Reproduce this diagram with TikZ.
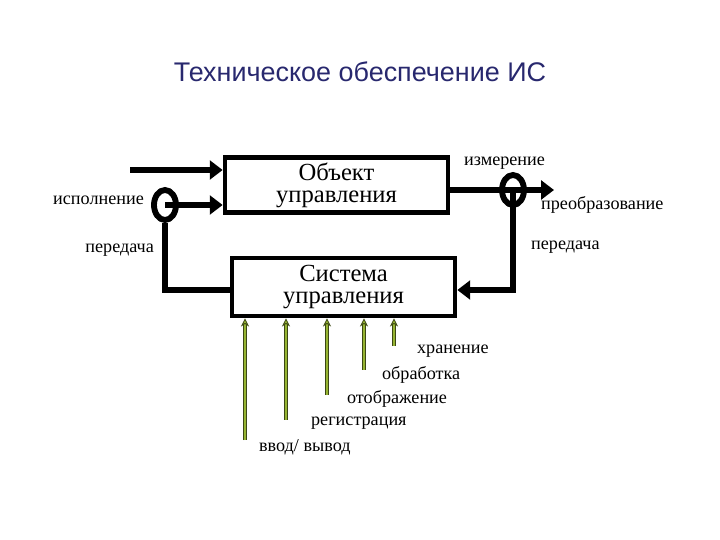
\documentclass[tikz,border=0pt]{standalone}
\usepackage{fontspec}
\setmainfont{Liberation Serif}
\newfontfamily\titlefont{Liberation Sans}
\usetikzlibrary{arrows.meta,shapes.geometric}
\definecolor{titleblue}{RGB}{40,40,110}
\definecolor{lgreen}{RGB}{150,180,50}
\begin{document}
\begin{tikzpicture}[x=0.03cm,y=-0.03cm,
  box/.style={draw,line width=4pt,inner sep=0pt,font=\fontsize{21}{19}\selectfont,align=center},
  thick line/.style={line width=5pt},
  big arrow/.style={thick line,-{Triangle[length=11pt,width=16pt]}},
  green arrow/.style={draw=black!60!lgreen,double=lgreen,double distance=2.2pt,line width=0.7pt,-{Stealth[length=7pt,width=7pt,fill=lgreen]}},
  lab/.style={font=\fontsize{15.5}{15}\selectfont}]
\useasboundingbox (0,0) rectangle (720,540);
\node[font=\titlefont\fontsize{23}{23}\selectfont,text=titleblue] (title) at (360,72) {Техническое обеспечение ИС};
\node[box,minimum width=223*0.03cm,minimum height=55*0.03cm] (obj) at (336.5,185) {Объект\\управления};
\node[box,minimum width=223*0.03cm,minimum height=58*0.03cm] (sys) at (343.5,287) {Система\\управления};
\coordinate (in1) at (130,170);
\draw[big arrow] (in1) -- (obj.west |- in1);
\node[draw,line width=5pt,ellipse,minimum width=22*0.03cm,minimum height=30*0.03cm,inner sep=0pt] (c1) at (165,205) {};
\draw[big arrow] (c1.center) -- (obj.west |- c1.center);
\coordinate (lc) at (165,290);
\draw[thick line] (c1.south) -- (lc) -- (sys.west |- lc);
\coordinate (out) at (554,190);
\node[draw,line width=5pt,ellipse,minimum width=22*0.03cm,minimum height=30*0.03cm,inner sep=0pt] (c2) at (513,190) {};
\draw[big arrow] (obj.east |- out) -- (out);
\coordinate (rc) at (513,290);
\draw[big arrow] (c2.center) -- (rc) -- (sys.east |- rc);
\node[lab,anchor=west] (l1) at (460,163) {измерение};
\node[lab,anchor=east] (l2) at (148,200) {исполнение};
\node[lab,anchor=east] (l3) at (158,250) {передача};
\node[lab,anchor=west] (l4) at (537,205) {преобразование};
\node[lab,anchor=west] (l5) at (527,247) {передача};
\foreach \x/\y/\n in {245/440/g1,286/420/g2,327/395/g3,364/370/g4,394/346/g5}{
  \coordinate (\n) at (\x,\y);
  \draw[green arrow] (\n) -- (sys.south -| \n);
}
\node[lab,anchor=west] (t5) at (413,351) {хранение};
\node[lab,anchor=west] (t4) at (378,375) {обработка};
\node[lab,anchor=west] (t3) at (343,399) {отображение};
\node[lab,anchor=west] (t2) at (307,423) {регистрация};
\node[lab,anchor=west] (t1) at (255,447) {ввод/ вывод};
\end{tikzpicture}
\end{document}
